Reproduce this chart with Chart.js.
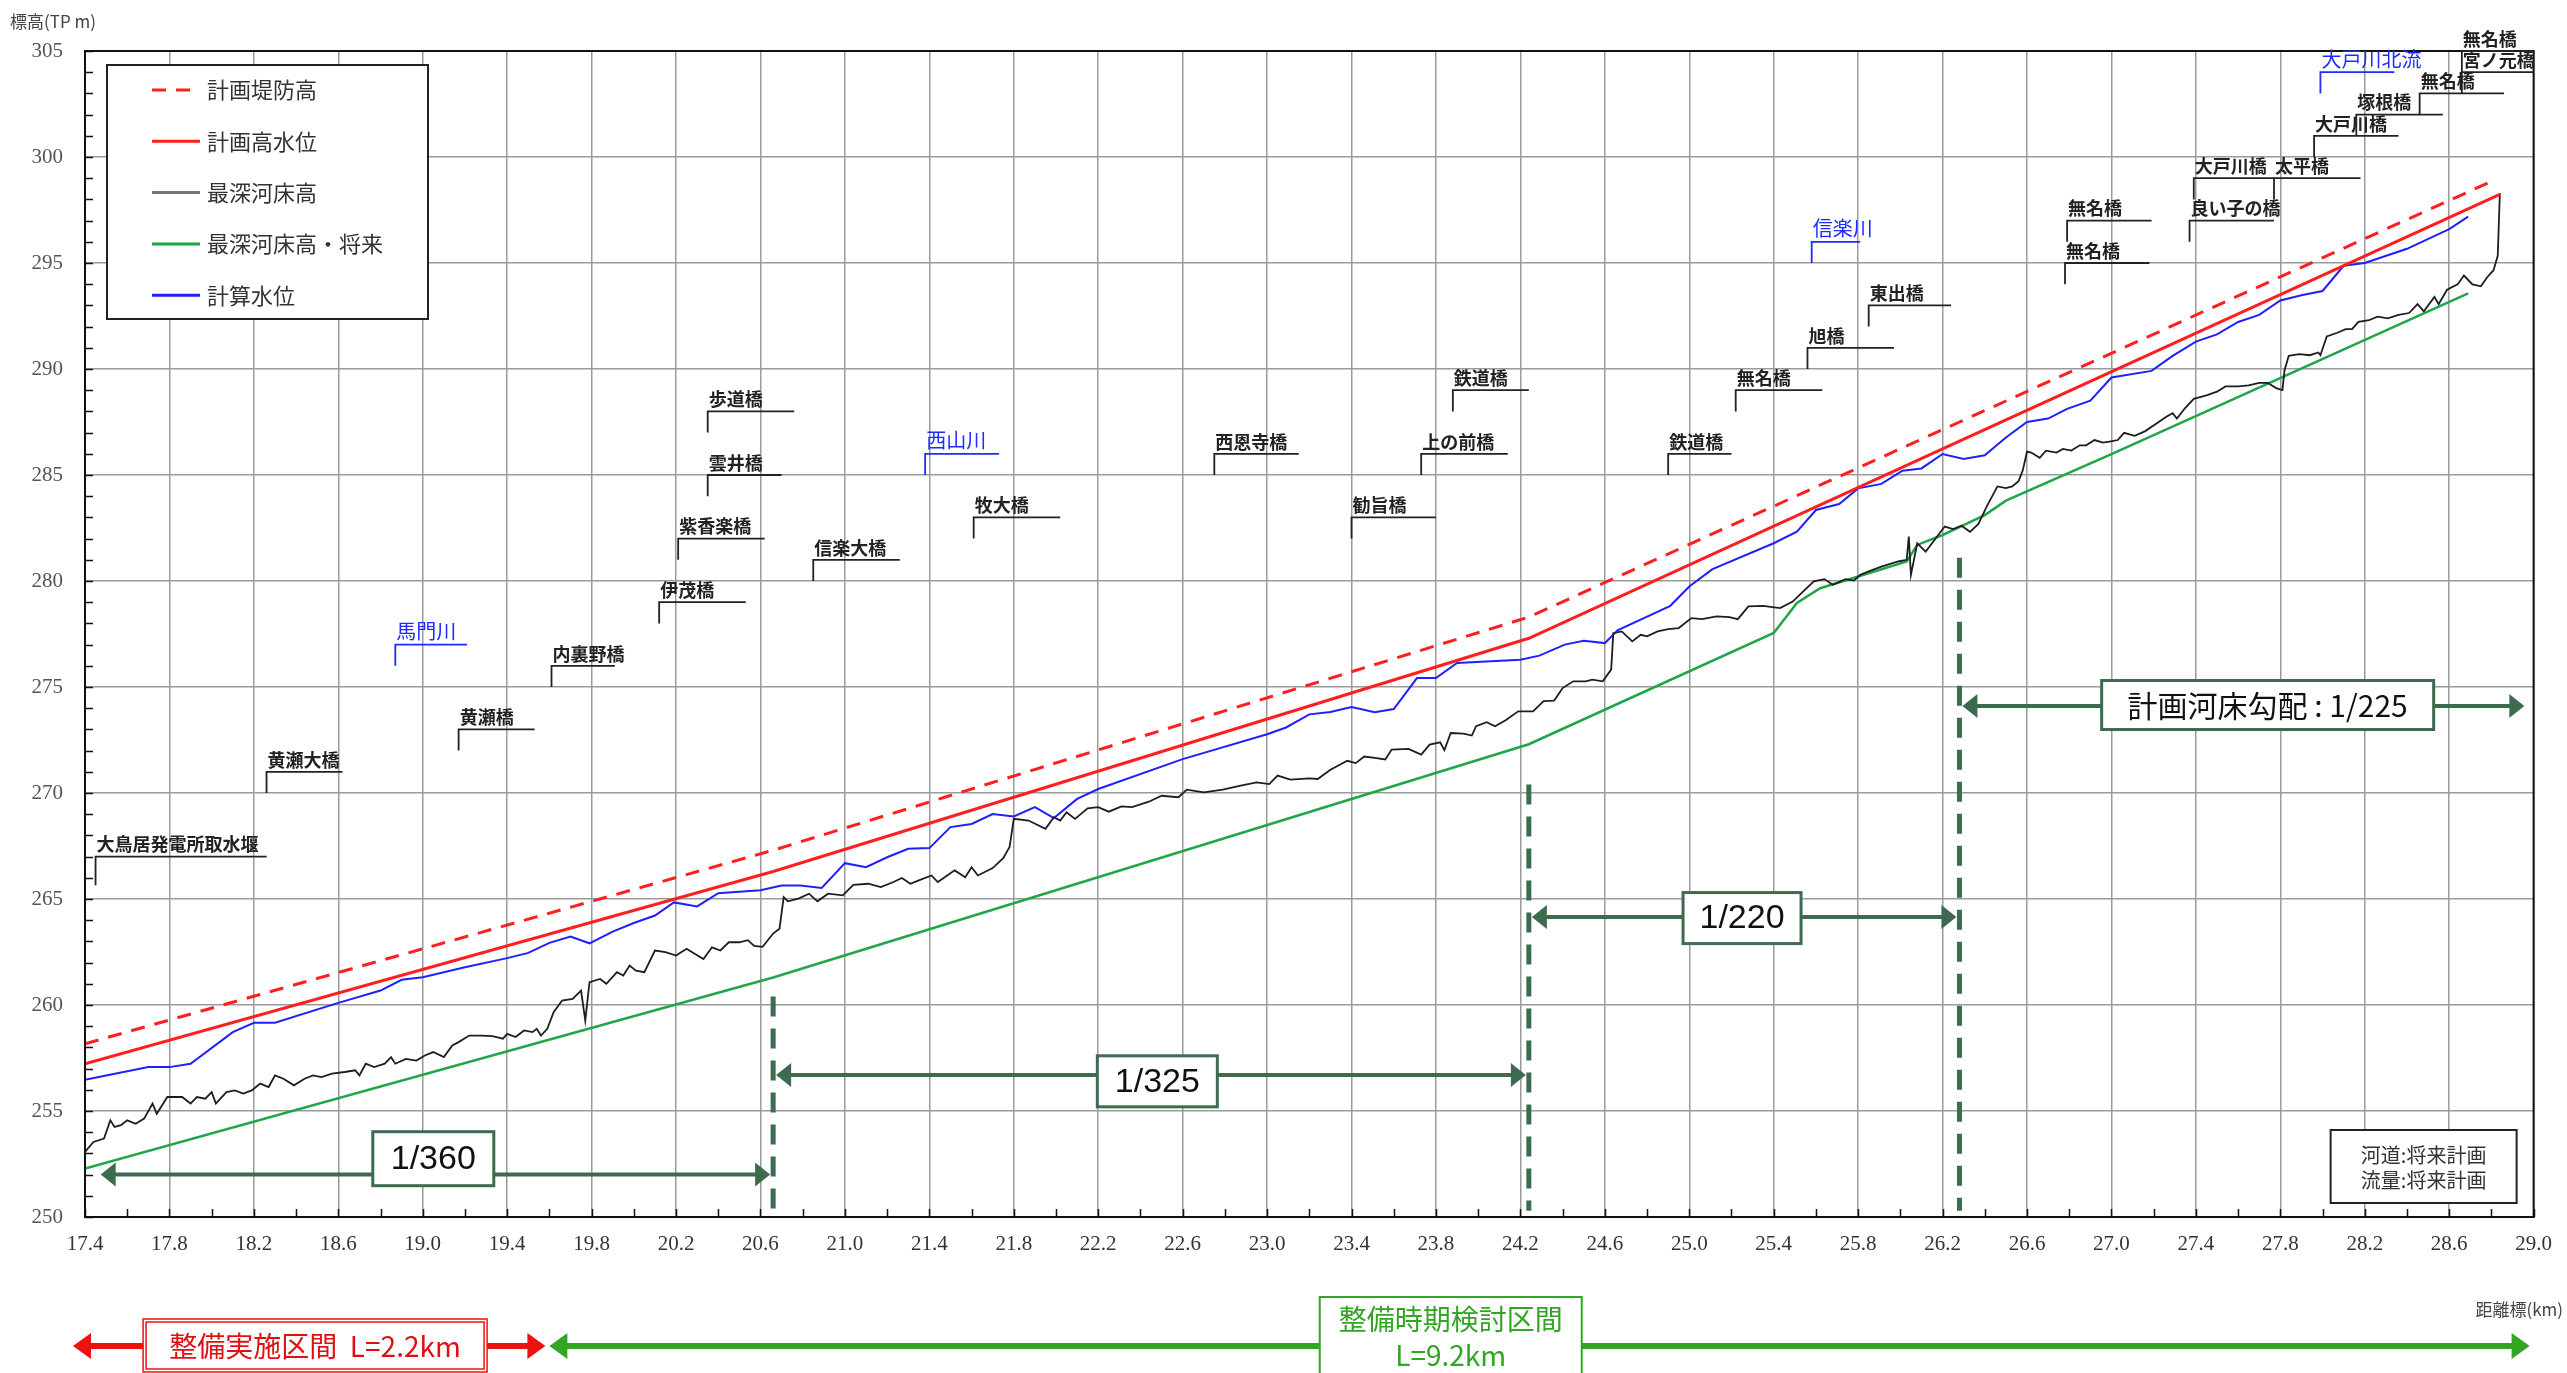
<!DOCTYPE html>
<html lang="ja">
<head>
<meta charset="utf-8">
<title>縦断図</title>
<script src="https://cdn.jsdelivr.net/npm/chart.js@4.4.1/dist/chart.umd.min.js"></script>
<style>
  html, body { margin: 0; padding: 0; background: #fff; }
  #wrap { width: 2567px; height: 1373px; position: relative; }
</style>
</head>
<body>
<div id="wrap"><canvas id="grafico"></canvas></div>
<script>
// Eixos
const rotulosX = ['17.4', '17.8', '18.2', '18.6', '19.0', '19.4', '19.8', '20.2', '20.6', '21.0',
  '21.4', '21.8', '22.2', '22.6', '23.0', '23.4', '23.8', '24.2', '24.6', '25.0',
  '25.4', '25.8', '26.2', '26.6', '27.0', '27.4', '27.8', '28.2', '28.6', '29.0'];
const rotulosY = ['250', '255', '260', '265', '270', '275', '280', '285', '290', '295', '300', '305'];

// Séries (km, cota TP m)
const diqueKm = [17.4, 20.66, 24.24, 26.28, 28.80];
const diqueCota = [258.17, 267.30, 278.30, 287.50, 298.85];

const hwlKm = [17.4, 20.66, 24.24, 26.28, 28.84];
const hwlCota = [257.23, 266.30, 277.30, 286.60, 298.24];

const leitoKm = [17.40, 17.44, 17.49, 17.52, 17.54, 17.57, 17.60, 17.64, 17.68, 17.72, 17.74, 17.79, 17.86, 17.90, 17.93, 17.97,
  18.00, 18.02, 18.07, 18.11, 18.15, 18.19, 18.23, 18.27, 18.30, 18.34, 18.39, 18.44, 18.48, 18.52, 18.57, 18.63, 18.68, 18.70,
  18.73, 18.77, 18.82, 18.85, 18.87, 18.92, 18.97, 19.01, 19.05, 19.10, 19.14, 19.17, 19.22, 19.28, 19.33, 19.38, 19.40, 19.44,
  19.48, 19.52, 19.54, 19.56, 19.59, 19.62, 19.66, 19.71, 19.75, 19.77, 19.79, 19.84, 19.87, 19.92, 19.95, 19.98, 20.01, 20.05,
  20.10, 20.15, 20.20, 20.25, 20.29, 20.33, 20.37, 20.41, 20.45, 20.50, 20.54, 20.57, 20.61, 20.66, 20.69, 20.71, 20.73, 20.78,
  20.83, 20.87, 20.92, 20.99, 21.04, 21.11, 21.17, 21.23, 21.27, 21.31, 21.35, 21.41, 21.44, 21.52, 21.57, 21.60, 21.63, 21.70,
  21.75, 21.78, 21.80, 21.87, 21.95, 21.99, 22.02, 22.05, 22.09, 22.15, 22.20, 22.25, 22.31, 22.36, 22.44, 22.50, 22.58, 22.62,
  22.70, 22.79, 22.87, 22.95, 23.01, 23.05, 23.11, 23.20, 23.24, 23.30, 23.38, 23.42, 23.46, 23.51, 23.56, 23.59, 23.67, 23.73,
  23.77, 23.82, 23.84, 23.87, 23.93, 23.97, 23.99, 24.04, 24.08, 24.13, 24.19, 24.26, 24.31, 24.36, 24.40, 24.45, 24.51, 24.54,
  24.59, 24.63, 24.64, 24.68, 24.73, 24.77, 24.80, 24.85, 24.90, 24.95, 25.01, 25.06, 25.13, 25.19, 25.23, 25.28, 25.35, 25.43,
  25.49, 25.54, 25.59, 25.64, 25.68, 25.74, 25.78, 25.81, 25.85, 25.91, 25.99, 26.03, 26.04, 26.05, 26.08, 26.12, 26.15, 26.21,
  26.25, 26.29, 26.33, 26.37, 26.41, 26.46, 26.50, 26.53, 26.56, 26.58, 26.60, 26.62, 26.66, 26.69, 26.74, 26.77, 26.81, 26.85,
  26.88, 26.92, 26.96, 26.99, 27.03, 27.06, 27.11, 27.16, 27.21, 27.26, 27.29, 27.31, 27.35, 27.39, 27.45, 27.50, 27.54, 27.60,
  27.65, 27.70, 27.74, 27.78, 27.81, 27.82, 27.84, 27.89, 27.94, 27.98, 27.99, 28.02, 28.07, 28.11, 28.14, 28.17, 28.22, 28.26,
  28.31, 28.36, 28.41, 28.45, 28.48, 28.53, 28.55, 28.59, 28.64, 28.67, 28.71, 28.75, 28.78, 28.81, 28.83, 28.84];
const leitoCota = [253.07, 253.54, 253.70, 254.56, 254.25, 254.33, 254.56, 254.40, 254.64, 255.35, 254.87, 255.66, 255.66, 255.35, 255.66, 255.58,
  255.89, 255.35, 255.89, 255.97, 255.82, 255.97, 256.29, 256.13, 256.68, 256.52, 256.21, 256.52, 256.68, 256.60, 256.76, 256.84, 256.92, 256.68,
  257.23, 257.07, 257.23, 257.54, 257.23, 257.46, 257.38, 257.62, 257.78, 257.54, 258.09, 258.25, 258.56, 258.56, 258.53, 258.41, 258.64, 258.49,
  258.80, 258.72, 258.88, 258.56, 258.88, 259.66, 260.21, 260.29, 260.68, 259.27, 261.08, 261.23, 261.00, 261.55, 261.39, 261.86, 261.62, 261.55,
  262.57, 262.49, 262.33, 262.65, 262.41, 262.17, 262.72, 262.57, 262.96, 262.96, 263.06, 262.79, 262.74, 263.37, 263.60, 265.09, 264.89, 265.02,
  265.25, 264.89, 265.25, 265.17, 265.67, 265.72, 265.56, 265.80, 265.99, 265.72, 265.88, 266.11, 265.80, 266.35, 266.03, 266.50, 266.11, 266.46,
  266.93, 267.45, 268.78, 268.70, 268.31, 268.86, 268.70, 269.09, 268.78, 269.28, 269.33, 269.12, 269.37, 269.33, 269.59, 269.87, 269.80, 270.16,
  270.03, 270.16, 270.34, 270.50, 270.42, 270.82, 270.63, 270.69, 270.66, 271.10, 271.52, 271.41, 271.72, 271.66, 271.58, 272.05, 272.08, 271.81,
  272.28, 272.39, 272.02, 272.83, 272.80, 272.71, 273.15, 273.34, 273.15, 273.43, 273.85, 273.85, 274.33, 274.36, 274.95, 275.27, 275.27, 275.35,
  275.27, 275.82, 277.54, 277.62, 277.15, 277.46, 277.39, 277.62, 277.73, 277.78, 278.25, 278.20, 278.33, 278.30, 278.20, 278.80, 278.83, 278.72,
  279.03, 279.51, 279.98, 280.09, 279.82, 280.09, 280.02, 280.29, 280.45, 280.68, 280.92, 281.00, 282.10, 280.29, 281.78, 281.39, 281.78, 282.57,
  282.45, 282.61, 282.32, 282.69, 283.53, 284.46, 284.38, 284.46, 284.71, 285.22, 286.10, 286.06, 285.81, 286.15, 286.06, 286.23, 286.15, 286.40,
  286.40, 286.65, 286.53, 286.57, 286.65, 286.99, 286.85, 287.07, 287.41, 287.75, 287.92, 287.66, 288.17, 288.59, 288.76, 288.93, 289.18, 289.18,
  289.23, 289.35, 289.35, 289.10, 289.01, 289.94, 290.62, 290.70, 290.65, 290.78, 290.65, 291.54, 291.71, 291.88, 291.88, 292.22, 292.30, 292.47,
  292.39, 292.55, 292.64, 293.06, 292.72, 293.40, 293.06, 293.74, 293.99, 294.41, 293.99, 293.90, 294.33, 294.66, 295.34, 298.29];

const futuroKm = [17.4, 20.66, 24.24, 25.40, 25.51, 25.62, 25.80, 26.03, 26.08, 26.20, 26.40, 26.50, 27.00, 28.69];
const futuroCota = [252.28, 261.30, 272.30, 277.55, 278.96, 279.66, 280.21, 280.92, 281.70, 282.17, 283.11, 283.79, 285.98, 293.57];

const calcKm = [17.40, 17.70, 17.80, 17.90, 18.10, 18.20, 18.30, 18.60, 18.80, 18.90, 19.00, 19.20, 19.40, 19.50, 19.60, 19.70,
  19.79, 19.90, 20.00, 20.10, 20.19, 20.30, 20.40, 20.60, 20.70, 20.79, 20.89, 21.00, 21.10, 21.20, 21.30, 21.40, 21.50, 21.60,
  21.70, 21.80, 21.90, 21.99, 22.10, 22.20, 22.60, 23.00, 23.09, 23.20, 23.30, 23.40, 23.51, 23.60, 23.71, 23.80, 23.90, 24.20,
  24.29, 24.41, 24.50, 24.60, 24.66, 24.91, 25.00, 25.11, 25.40, 25.51, 25.60, 25.71, 25.80, 25.91, 26.01, 26.10, 26.20, 26.30,
  26.40, 26.50, 26.60, 26.70, 26.79, 26.90, 27.00, 27.19, 27.29, 27.40, 27.50, 27.60, 27.70, 27.80, 27.90, 28.00, 28.10, 28.20,
  28.40, 28.60, 28.69];
const calcCota = [256.47, 257.07, 257.07, 257.23, 258.72, 259.16, 259.16, 260.10, 260.68, 261.19, 261.31, 261.78, 262.21, 262.46, 262.93, 263.23,
  262.91, 263.46, 263.87, 264.22, 264.84, 264.65, 265.27, 265.41, 265.64, 265.64, 265.52, 266.69, 266.50, 266.97, 267.37, 267.40, 268.39, 268.54,
  269.01, 268.89, 269.33, 268.82, 269.72, 270.19, 271.60, 272.77, 273.09, 273.71, 273.82, 274.06, 273.81, 273.96, 275.42, 275.42, 276.13, 276.29,
  276.48, 277.00, 277.18, 277.07, 277.67, 278.83, 279.74, 280.56, 281.78, 282.33, 283.35, 283.63, 284.37, 284.58, 285.20, 285.31, 285.99, 285.76,
  285.93, 286.77, 287.50, 287.66, 288.12, 288.51, 289.60, 289.91, 290.62, 291.29, 291.63, 292.22, 292.55, 293.23, 293.48, 293.68, 294.87, 295.00,
  295.67, 296.60, 297.19];

// Pontes e afluentes
const ponteNome = ['大鳥居発電所取水堰', '黄瀬大橋', '馬門川', '黄瀬橋', '内裏野橋', '伊茂橋', '紫香楽橋', '雲井橋', '歩道橋', '信楽大橋',
  '西山川', '牧大橋', '西恩寺橋', '勧旨橋', '上の前橋', '鉄道橋', '鉄道橋', '無名橋', '旭橋', '東出橋', '信楽川', '無名橋', '無名橋',
  '良い子の橋', '大戸川橋', '太平橋', '大戸川橋', '塚根橋', '無名橋', '宮ノ元橋', '無名橋', '大戸川北流'];
const ponteKm = [17.45, 18.26, 18.87, 19.17, 19.61, 20.12, 20.21, 20.35, 20.35, 20.85, 21.38, 21.61, 22.75, 23.40, 23.73, 23.88,
  24.90, 25.22, 25.56, 25.85, 25.58, 26.78, 26.79, 27.37, 27.39, 27.77, 27.96, 28.16, 28.46, 28.66, 28.66, 27.99];
const ponteKmFim = [18.26, 18.62, 19.21, 19.53, 19.91, 20.53, 20.62, 20.70, 20.76, 21.26, 21.73, 22.02, 23.15, 23.80, 24.14, 24.24,
  25.20, 25.63, 25.97, 26.24, 25.81, 27.18, 27.19, 27.77, 27.77, 28.18, 28.36, 28.57, 28.86, 29.00, 29.00, 28.34];
const ponteCota = [267.0, 271, 277, 273, 276, 279, 282, 285, 288, 281, 286, 283, 286, 283, 286, 289,
  286, 289, 291, 293, 296, 295, 297, 297, 299, 299, 301, 302, 303, 304, 305, 304];
const ponteBase = [265.65, 270, 276, 272, 275, 278, 281, 284, 287, 280, 285, 282, 285, 282, 285, 288,
  285, 288, 290, 292, 295, 294, 296, 296, 298, 298, 300, 301, 302, 303, 304, 303];
const ponteRio = [false, false, true, false, false, false, false, false, false, false, true, false, false, false, false, false,
  false, false, false, false, true, false, false, false, false, false, false, false, false, false, false, true];

// Declividades do leito planejado
const declivDe = [17.46, 20.66, 24.24, 26.28];
const declivAte = [20.66, 24.24, 26.28, 28.97];
const declivCota = [252.0, 256.7, 264.15, 274.1];
const declivTexto = ['1/360', '1/325', '1/220', '計画河床勾配 : 1/225'];
const declivCaixaKm = [19.05, 22.48, 25.25, 27.74];
const declivCaixaCota = [252.75, 256.4, 264.1, 274.15];
const quebraKm = [20.66, 24.24, 26.28];
const quebraTopo = [260.4, 270.4, 281.1];

// Trechos (parte de baixo)
const trechoKm = [17.4, 19.6, 29.0];
const trechoCaixaKm = [18.49, 23.87];

// Utilitários
function pares(xs, ys) {
  return xs.map((v, i) => ({ x: v, y: ys[i] }));
}

const verdeEscuro = '#3d6b4f';
const fonteJp = "'Noto Sans CJK JP', 'Noto Sans', sans-serif";

function seta(ctx, x1, x2, y, cor, lw, hl, hw) {
  ctx.save();
  ctx.strokeStyle = cor;
  ctx.fillStyle = cor;
  ctx.lineWidth = lw;
  ctx.setLineDash([]);
  ctx.beginPath();
  ctx.moveTo(x1 + hl * 0.8, y);
  ctx.lineTo(x2 - hl * 0.8, y);
  ctx.stroke();
  ctx.beginPath();
  ctx.moveTo(x1, y); ctx.lineTo(x1 + hl, y - hw); ctx.lineTo(x1 + hl, y + hw);
  ctx.closePath(); ctx.fill();
  ctx.beginPath();
  ctx.moveTo(x2, y); ctx.lineTo(x2 - hl, y - hw); ctx.lineTo(x2 - hl, y + hw);
  ctx.closePath(); ctx.fill();
  ctx.restore();
}

// Desenhos extras: moldura, marcas, pontes, declividades, legenda, notas
const desenho = {
  id: 'desenho',
  afterDatasetsDraw(chart) {
    const { ctx, chartArea: a, scales: { x, y } } = chart;
    ctx.save();

    // moldura
    ctx.strokeStyle = '#111';
    ctx.lineWidth = 2;
    ctx.strokeRect(a.left, a.top, a.right - a.left, a.bottom - a.top);

    // marcas menores para dentro
    ctx.lineWidth = 1.5;
    ctx.beginPath();
    for (let v = y.min; v <= y.max; v += 1) {
      const py = Math.round(y.getPixelForValue(v)) + 0.5;
      ctx.moveTo(a.left, py); ctx.lineTo(a.left + 8, py);
    }
    for (let k = 0; k <= 58; k++) {
      const px = Math.round(x.getPixelForValue(x.min + k * 0.2)) + 0.5;
      ctx.moveTo(px, a.bottom); ctx.lineTo(px, a.bottom - 8);
    }
    ctx.stroke();

    // pontes e afluentes
    ctx.textAlign = 'left';
    ctx.textBaseline = 'bottom';
    ponteNome.forEach((nome, i) => {
      const x0 = x.getPixelForValue(ponteKm[i]);
      const x1 = x.getPixelForValue(ponteKmFim[i]);
      const y0 = y.getPixelForValue(ponteCota[i]);
      const y1 = y.getPixelForValue(ponteBase[i]);
      const cor = ponteRio[i] ? '#1f2bff' : '#222';
      ctx.strokeStyle = cor;
      ctx.lineWidth = 1.8;
      ctx.beginPath();
      ctx.moveTo(x0, y1); ctx.lineTo(x0, y0); ctx.lineTo(x1, y0);
      ctx.stroke();
      ctx.fillStyle = cor;
      ctx.font = ponteRio[i] ? `20px ${fonteJp}` : `bold 18px ${fonteJp}`;
      ctx.fillText(nome, x0 + 1, y0 - 3);
    });

    // quebras de declividade (linhas tracejadas)
    ctx.strokeStyle = verdeEscuro;
    ctx.lineWidth = 5;
    ctx.setLineDash([20, 12]);
    quebraKm.forEach((km, i) => {
      const px = x.getPixelForValue(km);
      ctx.beginPath();
      ctx.moveTo(px, y.getPixelForValue(quebraTopo[i]));
      ctx.lineTo(px, y.getPixelForValue(250.3));
      ctx.stroke();
    });
    ctx.setLineDash([]);

    // setas de declividade
    const caixaW = [121, 120, 118, 332];
    const caixaH = [54, 51, 51, 49];
    declivTexto.forEach((txt, i) => {
      const py = y.getPixelForValue(declivCota[i]);
      seta(ctx, x.getPixelForValue(declivDe[i]) + 3, x.getPixelForValue(declivAte[i]) - 3, py, verdeEscuro, 4, 15, 12);
      const cx = x.getPixelForValue(declivCaixaKm[i]);
      const cy = y.getPixelForValue(declivCaixaCota[i]);
      ctx.fillStyle = '#fff';
      ctx.fillRect(cx - caixaW[i] / 2, cy - caixaH[i] / 2, caixaW[i], caixaH[i]);
      ctx.strokeStyle = verdeEscuro;
      ctx.lineWidth = 3;
      ctx.strokeRect(cx - caixaW[i] / 2, cy - caixaH[i] / 2, caixaW[i], caixaH[i]);
      ctx.fillStyle = '#111';
      ctx.textAlign = 'center';
      ctx.textBaseline = 'middle';
      ctx.font = i === 3 ? `30px 'Liberation Sans Narrow', ${fonteJp}` : `34px 'Liberation Sans Narrow', 'Liberation Sans', sans-serif`;
      ctx.fillText(txt, cx, cy + 1);
    });

    // legenda
    const lx = a.left + 22, ly = a.top + 14, lw = 321, lh = 254;
    ctx.fillStyle = '#fff';
    ctx.fillRect(lx, ly, lw, lh);
    ctx.strokeStyle = '#222';
    ctx.lineWidth = 2;
    ctx.strokeRect(lx, ly, lw, lh);
    ctx.textAlign = 'left';
    ctx.textBaseline = 'middle';
    ctx.font = `22px ${fonteJp}`;
    chart.data.datasets.forEach((ds, i) => {
      const yy = ly + 25 + i * 51.3;
      ctx.strokeStyle = ds.legendColor || ds.borderColor;
      ctx.lineWidth = 3;
      ctx.setLineDash(ds.borderDash || []);
      ctx.beginPath();
      ctx.moveTo(lx + 45, yy); ctx.lineTo(lx + 93, yy);
      ctx.stroke();
      ctx.setLineDash([]);
      ctx.fillStyle = '#333';
      ctx.fillText(ds.label, lx + 100, yy);
    });

    // nota de condições
    const bw = 186, bh = 73;
    const bx = a.right - 17 - bw, by = a.bottom - 14 - bh;
    ctx.fillStyle = '#fff';
    ctx.fillRect(bx, by, bw, bh);
    ctx.strokeStyle = '#222';
    ctx.lineWidth = 2;
    ctx.strokeRect(bx, by, bw, bh);
    ctx.fillStyle = '#333';
    ctx.textAlign = 'center';
    ctx.font = `20px ${fonteJp}`;
    ctx.fillText('河道:将来計画', bx + bw / 2, by + 25);
    ctx.fillText('流量:将来計画', bx + bw / 2, by + 50);

    // títulos dos eixos
    ctx.fillStyle = '#444';
    ctx.textAlign = 'left';
    ctx.font = `17px ${fonteJp}`;
    ctx.fillText('標高(TP m)', 10, 22);
    ctx.textAlign = 'right';
    ctx.fillText('距離標(km)', chart.width - 4, 1310);

    // trechos de obra
    const ys = 1346;
    const xa = x.getPixelForValue(trechoKm[0]) - 12;
    const xb = x.getPixelForValue(trechoKm[1]);
    const xc = x.getPixelForValue(trechoKm[2]) - 4;
    seta(ctx, xa, xb - 4, ys, '#ee1111', 6, 18, 13);
    seta(ctx, xb, xc, ys, '#33a524', 6, 18, 13);

    // caixa vermelha
    let cx = x.getPixelForValue(trechoCaixaKm[0]);
    ctx.fillStyle = '#fff';
    ctx.fillRect(cx - 172, ys - 27, 344, 53);
    ctx.strokeStyle = '#ee1111';
    ctx.lineWidth = 1.5;
    ctx.strokeRect(cx - 172, ys - 27, 344, 53);
    ctx.strokeRect(cx - 169, ys - 24, 338, 47);
    ctx.fillStyle = '#e01010';
    ctx.textAlign = 'center';
    ctx.font = `28px ${fonteJp}`;
    ctx.fillText('整備実施区間  L=2.2km', cx, ys);

    // caixa verde
    cx = x.getPixelForValue(trechoCaixaKm[1]);
    ctx.fillStyle = '#fff';
    ctx.fillRect(cx - 131, 1297, 262, 90);
    ctx.strokeStyle = '#33a524';
    ctx.lineWidth = 2;
    ctx.strokeRect(cx - 131, 1297, 262, 90);
    ctx.fillStyle = '#33a524';
    ctx.fillText('整備時期検討区間', cx, 1319);
    ctx.fillText('L=9.2km', cx, 1355);

    ctx.restore();
  }
};

new Chart(document.getElementById('grafico'), {
  type: 'line',
  data: {
    datasets: [
      { label: '計画堤防高', data: pares(diqueKm, diqueCota), borderColor: '#ff1f1f', borderWidth: 3, borderDash: [14, 10] },
      { label: '計画高水位', data: pares(hwlKm, hwlCota), borderColor: '#ff1f1f', borderWidth: 3 },
      { label: '最深河床高', data: pares(leitoKm, leitoCota), borderColor: '#1e1e1e', legendColor: '#777', borderWidth: 1.8 },
      { label: '最深河床高・将来', data: pares(futuroKm, futuroCota), borderColor: '#1fa64a', borderWidth: 2.5 },
      { label: '計算水位', data: pares(calcKm, calcCota), borderColor: '#2020ff', borderWidth: 2 }
    ]
  },
  options: {
    responsive: true,
    maintainAspectRatio: false,
    animation: false,
    devicePixelRatio: 1,
    layout: { padding: { top: 51, right: 27, left: 0, bottom: 0 } },
    elements: { point: { radius: 0 }, line: { tension: 0 } },
    plugins: { legend: { display: false }, tooltip: { enabled: false } },
    scales: {
      x: {
        type: 'linear',
        min: 17.4,
        max: 29.0,
        afterBuildTicks: s => { s.ticks = rotulosX.map(t => ({ value: parseFloat(t) })); },
        afterFit: s => { s.height = 156; },
        ticks: {
          callback: (v, i) => rotulosX[i],
          autoSkip: false,
          maxRotation: 0,
          padding: 15,
          color: '#333',
          font: { family: "'Liberation Serif', 'DejaVu Serif', serif", size: 21 }
        },
        grid: { color: '#9a9a9a', lineWidth: 1.5, drawTicks: false },
        border: { color: '#111', width: 2 }
      },
      y: {
        min: 250,
        max: 305,
        afterBuildTicks: s => { s.ticks = rotulosY.map(t => ({ value: Number(t) })); },
        afterFit: s => { s.width = 85; },
        ticks: {
          callback: (v, i) => rotulosY[i],
          padding: 22,
          color: '#555',
          font: { family: "'Liberation Serif', 'DejaVu Serif', serif", size: 21 }
        },
        grid: { color: '#9a9a9a', lineWidth: 1.5, drawTicks: false },
        border: { color: '#111', width: 2 }
      }
    }
  },
  plugins: [desenho]
});
</script>
</body>
</html>
